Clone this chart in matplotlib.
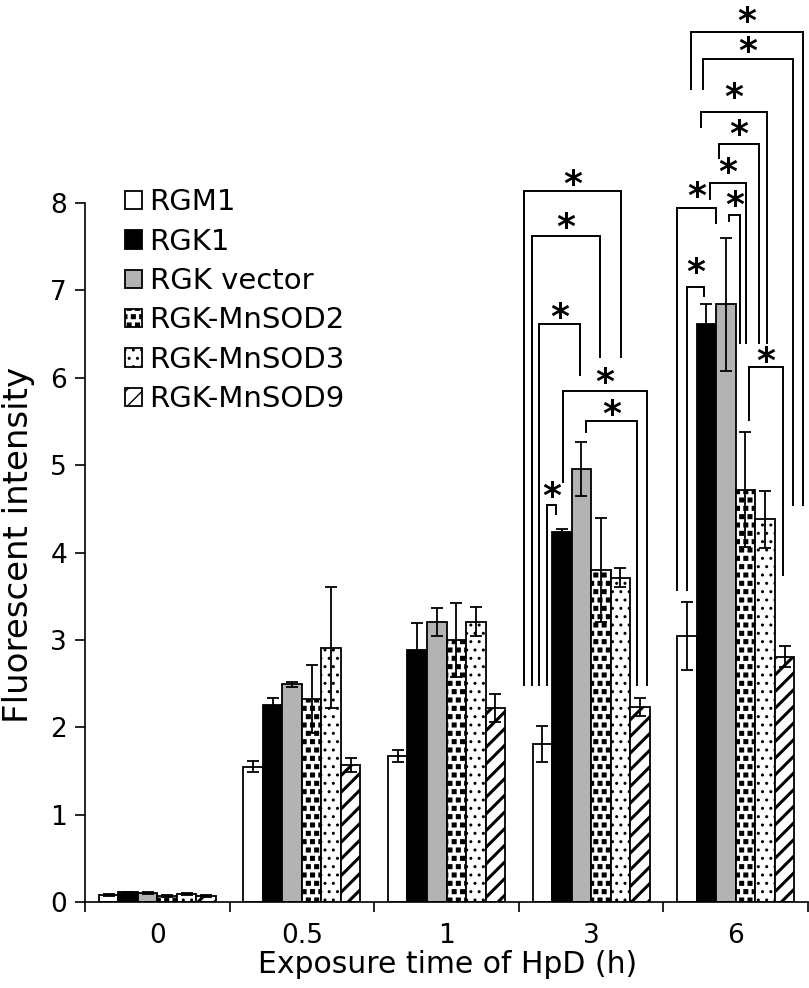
import numpy as np
import matplotlib
matplotlib.use("Agg")
import matplotlib.pyplot as plt
import matplotlib.hatch as mhatch
from matplotlib.path import Path


# the '*' hatch is redrawn as small filled squares (RGK-MnSOD2 texture)
class FilledSquares(mhatch.Shapes):
    size = 0.22
    filled = True

    def __init__(self, hatch, density):
        self.num_rows = hatch.count('*') * density
        self.shape_vertices = np.array([[-1, -1], [1, -1], [1, 1], [-1, 1], [-1, -1]], dtype=float)
        self.shape_codes = np.array([Path.MOVETO, Path.LINETO, Path.LINETO, Path.LINETO,
                                     Path.CLOSEPOLY], dtype=Path.code_type)
        super().__init__(hatch, density)


mhatch._hatch_types = [h for h in mhatch._hatch_types if h is not mhatch.Stars] + [FilledSquares]

plt.rcParams['font.family'] = ['DejaVu Sans']
plt.rcParams['hatch.linewidth'] = 1.0

times = ['0', '0.5', '1', '3', '6']
labels = ['RGM1', 'RGK1', 'RGK vector', 'RGK-MnSOD2', 'RGK-MnSOD3', 'RGK-MnSOD9']

rgm1 = [0.08, 1.55, 1.67, 1.81, 3.04]
rgm1_err = [0.01, 0.06, 0.07, 0.21, 0.39]
rgk1 = [0.11, 2.25, 2.89, 4.23, 6.62]
rgk1_err = [0.01, 0.09, 0.30, 0.04, 0.23]
vector = [0.10, 2.49, 3.21, 4.96, 6.84]
vector_err = [0.01, 0.03, 0.16, 0.31, 0.76]
mnsod2 = [0.07, 2.32, 3.00, 3.80, 4.72]
mnsod2_err = [0.01, 0.39, 0.42, 0.59, 0.66]
mnsod3 = [0.09, 2.91, 3.21, 3.71, 4.38]
mnsod3_err = [0.01, 0.69, 0.17, 0.11, 0.33]
mnsod9 = [0.07, 1.57, 2.22, 2.23, 2.81]
mnsod9_err = [0.01, 0.08, 0.16, 0.10, 0.12]

series = [rgm1, rgk1, vector, mnsod2, mnsod3, mnsod9]
errors = [rgm1_err, rgk1_err, vector_err, mnsod2_err, mnsod3_err, mnsod9_err]
colors = ['white', 'black', '#b3b3b3', 'white', 'white', 'white']
hatches = [None, None, None, '**', '..', '//']

# significance brackets: (group, left bar, left shift, right bar, right shift,
#                         top, left leg end, right leg end, star height)
brackets = [
    (3, 0, -0.94, 4, 0.03, 8.14, 2.48, 6.24, 8.26),
    (3, 0, -0.53, 3, -0.05, 7.62, 2.48, 6.24, 7.77),
    (3, 0, -0.17, 2, -0.07, 6.62, 2.48, 6.03, 6.74),
    (3, 1, 0.06, 5, 0.36, 5.85, 4.81, 2.48, 6.00),
    (3, 2, 0.24, 5, -0.15, 5.51, 5.38, 2.48, 5.63),
    (3, 0, 0.24, 1, -0.30, 4.54, 2.48, 4.44, 4.69),
    (4, 0, 0.00, 1, -0.12, 7.04, 3.57, 6.94, 7.26),
    (4, 0, -0.51, 2, -0.51, 7.94, 3.57, 7.77, 8.13),
    (4, 1, 0.18, 3, 0.03, 8.23, 8.05, 6.40, 8.40),
    (4, 2, 0.16, 3, -0.28, 7.86, 7.79, 6.40, 8.03),
    (4, 3, 0.18, 5, -0.08, 6.12, 5.52, 3.74, 6.24),
    (4, 0, 0.21, 5, 0.95, 9.96, 9.30, 4.54, 10.13),
    (4, 1, -0.17, 5, 0.44, 9.65, 9.31, 4.54, 9.79),
    (4, 0, 0.72, 4, 0.10, 9.04, 8.87, 6.40, 9.26),
    (4, 1, 0.65, 4, -0.31, 8.68, 8.52, 6.40, 8.84),
]

fig = plt.figure(figsize=(8.09, 9.88), dpi=100)
ax = fig.add_axes([0.1051, 0.0870, 0.8937, 0.7075])

x = np.arange(len(times))
w = 0.135
for j in range(len(labels)):
    pos = x + (j - 2.5) * w
    bars = ax.bar(pos, series[j], w, color=colors[j], edgecolor='black', linewidth=1.3,
                  hatch=hatches[j], label=labels[j], zorder=2)
    if hatches[j] == '//':
        for b in bars:
            if hasattr(b, 'set_hatch_linewidth'):
                b.set_hatch_linewidth(2.2)
    ax.errorbar(pos, series[j], yerr=errors[j], fmt='none', ecolor='black',
                elinewidth=1.3, capsize=4, capthick=1.3, zorder=3)

star_size = 26
for g, lb, ldx, rb, rdx, top, lend, rend, star in brackets:
    xl = g + (lb - 2.5 + ldx) * w
    xr = g + (rb - 2.5 + rdx) * w
    ax.plot([xl, xl, xr, xr], [lend, top, top, rend], color='black', lw=1.4,
            clip_on=False, zorder=4, solid_joinstyle='miter')
    ax.annotate('*', ((xl + xr) / 2, star), xytext=(0, -0.42 * star_size),
                textcoords='offset points', ha='center', va='baseline',
                fontsize=star_size, fontweight='bold', annotation_clip=False)

ax.set_xlim(-0.5, 4.5)
ax.set_ylim(0, 8)
ax.set_yticks(range(0, 9))
ax.set_xticks(np.arange(-0.5, 5, 1))
ax.set_xticklabels([])
ax.set_xticks(x, minor=True)
ax.set_xticklabels(times, minor=True)
ax.tick_params(axis='x', which='major', length=7, width=1.2, direction='out')
ax.tick_params(axis='x', which='minor', length=0, pad=15, labelsize=19)
ax.tick_params(axis='y', length=7, width=1.2, direction='out', pad=6, labelsize=19)

for s in ['top', 'right']:
    ax.spines[s].set_visible(False)
for s in ['left', 'bottom']:
    ax.spines[s].set_linewidth(1.2)

ax.set_xlabel('Exposure time of HpD (h)', fontsize=21.5)
ax.xaxis.set_label_coords(0.502, -0.068)
ax.set_ylabel('Fluorescent intensity', fontsize=24.5)
ax.yaxis.set_label_coords(-0.069, 0.511)

ax.legend(loc='upper left', bbox_to_anchor=(0.055, 1.021), frameon=False, fontsize=21,
          handlelength=0.58, handleheight=0.58, handletextpad=0.27, labelspacing=0.39,
          borderaxespad=0, borderpad=0)

plt.savefig('out.png', dpi=100)
